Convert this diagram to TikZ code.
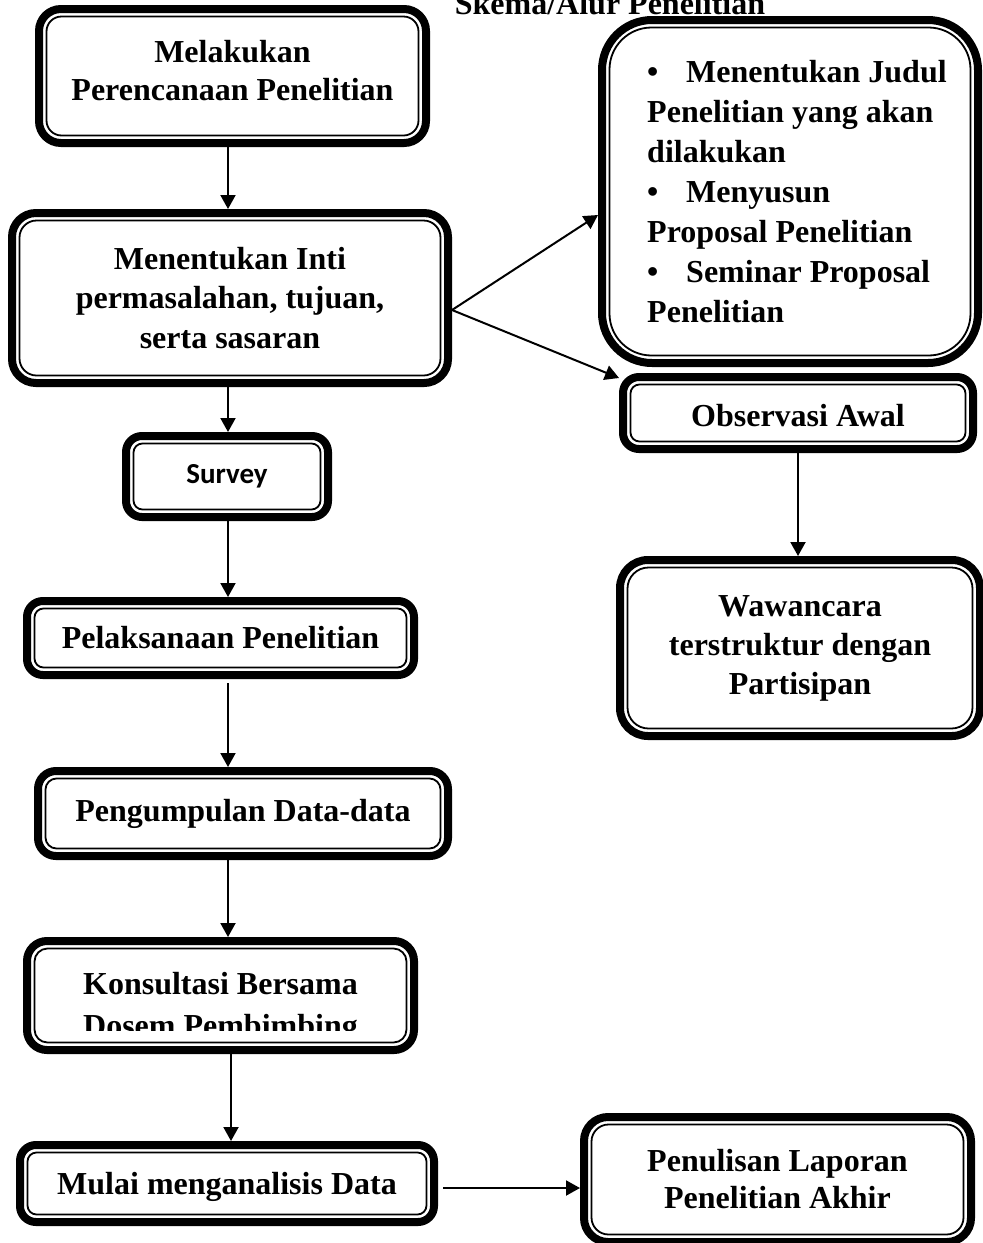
\documentclass[tikz,border=0pt]{standalone}
\usepackage{fontspec}
\setmainfont{Liberation Serif}
\newfontfamily\calibrifont{Carlito}
\usetikzlibrary{arrows.meta}
\newcommand\tfont{\fontsize{32}{38}\selectfont\bfseries}
\newcommand\lowpad[1]{\rule[-#1]{0pt}{#1}}
\newcommand\toppad[1]{\rule{0pt}{#1}}
\newcommand\ind{\hspace*{14pt}}
\newcommand\bul{\makebox[39pt][l]{\textbullet}}
\tikzset{
  frame/.style={draw, line width=8pt, rounded corners=#1, inner sep=0pt, outer sep=4pt, align=center, font=\tfont},
  arr/.style={line width=2pt, -{Triangle[length=14pt,width=15pt]}},
  thinframe/.style={line width=1.8pt, rounded corners=#1}
}
\begin{document}
\begin{tikzpicture}[x=1pt,y=-1pt]
\fill[white] (0,0) rectangle (983,1243);
\useasboundingbox (0,0) rectangle (983,1243);

\node[anchor=base, font=\tfont, inner sep=0pt] (title) at (610,14) {Skema/Alur Penelitian};

\node[frame=22pt, minimum width=387pt, minimum height=134pt] (b1) at (232.5,76)
  {Melakukan\\Perencanaan Penelitian\lowpad{10.6pt}};
\node[frame=24pt, minimum width=436pt, minimum height=170pt, font=\fontsize{32}{39.5}\selectfont\bfseries] (b2) at (230,298)
  {Menentukan Inti\\permasalahan, tujuan,\\serta sasaran};
\node[frame=16pt, minimum width=202pt, minimum height=81pt, font=\calibrifont\bfseries\fontsize{29}{34}\selectfont] (survey) at (227,476.5) {Survey};
\node[frame=16pt, minimum width=387pt, minimum height=74pt] (pel) at (220.5,638) {Pelaksanaan Penelitian};
\node[frame=18pt, minimum width=410pt, minimum height=85pt] (peng) at (243,813.5) {Pengumpulan Data-data};
\node[frame=20pt, minimum width=387pt, minimum height=109pt] (kons) at (220.5,995.5) {};
\begin{scope}
  \clip (30,945) rectangle (410,1030.5);
  \node[anchor=north, inner sep=0pt, align=center, font=\fontsize{32}{42}\selectfont\bfseries] (konstext) at (220.5,972)
    {Konsultasi Bersama\\Dosem Pembimbing};
\end{scope}
\node[frame=16pt, minimum width=414pt, minimum height=77pt] (mulai) at (227,1183.5) {\toppad{29.6pt}Mulai menganalisis Data};

\node[frame=50pt, minimum width=376pt, minimum height=343pt, align=left, font=\fontsize{32}{40}\selectfont\bfseries] (bul) at (790,191.5)
  {\ind\bul Menentukan Judul\\\ind Penelitian yang akan\\\ind dilakukan\\\ind\bul Menyusun\\\ind Proposal Penelitian\\\ind\bul Seminar Proposal\\\ind Penelitian};
\node[frame=16pt, minimum width=350pt, minimum height=72pt] (obs) at (798,413) {\toppad{28pt}Observasi Awal};
\node[frame=28pt, minimum width=360pt, minimum height=176pt, font=\fontsize{32}{39}\selectfont\bfseries] (waw) at (800,648)
  {Wawancara\\terstruktur dengan\\Partisipan};
\node[frame=24pt, minimum width=387pt, minimum height=125pt, font=\fontsize{32}{37}\selectfont\bfseries] (pen) at (777.5,1179.5)
  {Penulisan Laporan\\Penelitian Akhir};

\foreach \n/\r in {b1/15pt, b2/17pt, survey/9pt, pel/9pt, peng/11pt, kons/13pt, mulai/9pt, bul/42pt, obs/9pt, waw/21pt, pen/17pt}
  \draw[thinframe=\r] ([shift={(11.5pt,11.5pt)}]\n.south west) rectangle ([shift={(-11.5pt,-11.5pt)}]\n.north east);

\coordinate (a1) at ([xshift=-4.5pt]b1.south);
\draw[arr] (a1) -- (a1 |- b2.north);
\coordinate (a2) at ([xshift=-2pt]b2.south);
\draw[arr] (a2) -- (a2 |- survey.north);
\coordinate (a3) at ([xshift=1pt]survey.south);
\draw[arr] (a3) -- (a3 |- pel.north);
\coordinate (a4) at ([xshift=7.5pt,yshift=-4pt]pel.south);
\draw[arr] (a4) -- (a4 |- peng.north);
\coordinate (a5) at ([xshift=-15pt]peng.south);
\draw[arr] (a5) -- (a5 |- kons.north);
\coordinate (a6) at ([xshift=10.5pt]kons.south);
\draw[arr] (a6) -- (a6 |- mulai.north);
\coordinate (a7) at ([xshift=5pt,yshift=-4.5pt]mulai.east);
\draw[arr] (a7) -- (a7 -| pen.west);
\coordinate (a8) at ([yshift=-12pt]b2.east);
\draw[arr] (a8) -- ([yshift=-23.5pt]bul.west);
\draw[arr] (a8) -- ([yshift=-5pt]obs.north west);
\draw[arr] (obs.south) -- (obs.south |- waw.north);
\end{tikzpicture}
\end{document}
